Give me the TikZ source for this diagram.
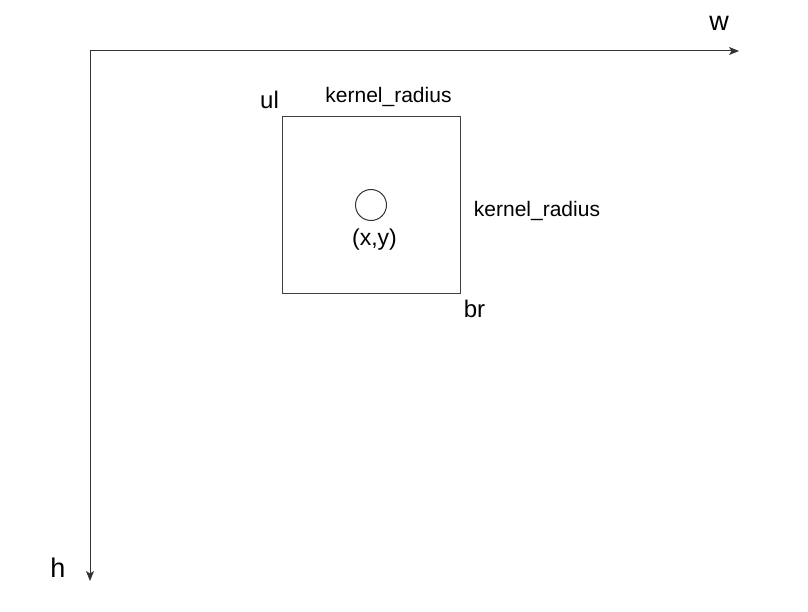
\documentclass[tikz,border=0pt]{standalone}
\usepackage{fontspec}
\setmainfont{Liberation Sans}
\usetikzlibrary{arrows.meta}
\begin{document}
\begin{tikzpicture}[x=1pt,y=-1pt,
  axis/.style={draw=black!80,line width=1pt,-{Stealth[length=10pt,width=8pt,inset=2.5pt]}},
  box/.style={draw=black!75,line width=1pt},
  lbl/.style={inner sep=0pt,anchor=base,text=black},
  big/.style={lbl,font=\fontsize{27}{30}\selectfont},
  mid/.style={lbl,font=\fontsize{24}{28}\selectfont},
  small/.style={lbl,font=\fontsize{21}{24}\selectfont},
  xy/.style={lbl,font=\fontsize{23}{26}\selectfont}]
\useasboundingbox (0,0) rectangle (808,612);
\coordinate (o) at (90,51);
\coordinate (wend) at (739,51);
\coordinate (hend) at (90,581);
\draw[axis] (o) -- (wend);
\draw[axis] (o) -- (hend);
\node[box,minimum width=178pt,minimum height=176pt,inner sep=0pt] (kernel) at (371,205) {};
\node[draw=black!80,line width=1pt,circle,minimum size=31pt,inner sep=0pt] (pt) at (371,205) {};
\node[big] (w) at (719,31) {w};
\node[big] (h) at (58,577) {h};
\node[mid] (ul) at (269.5,109) {ul};
\node[mid] (br) at (474.5,317) {br};
\node[small] (kr1) at (388.5,103) {kernel\_radius};
\node[small] (kr2) at (537,217) {kernel\_radius};
\node[xy] (xy) at (374.5,246) {(x,y)};
\end{tikzpicture}
\end{document}
